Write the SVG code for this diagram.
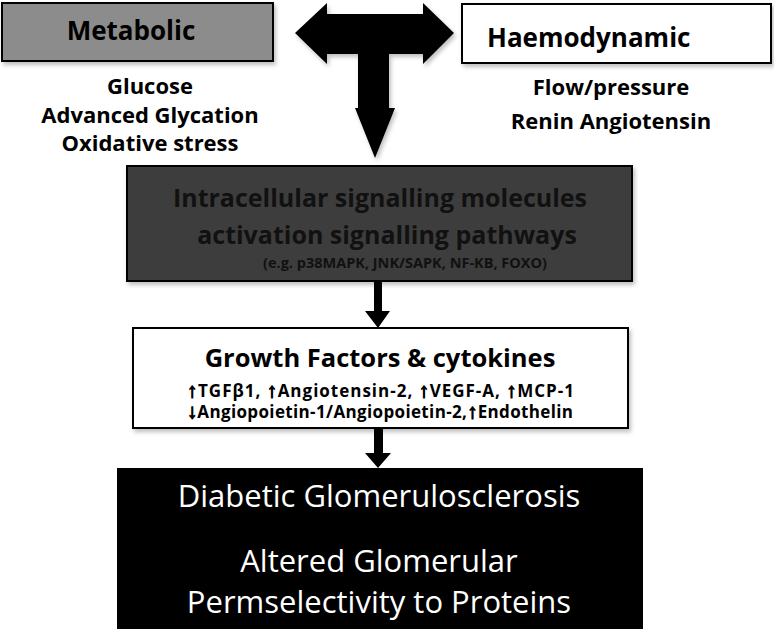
<svg xmlns="http://www.w3.org/2000/svg" width="774" height="631" viewBox="0 0 774 631">
<defs>
<filter id="sh" x="-5%" y="-5%" width="115%" height="125%">
<feDropShadow dx="2" dy="3" stdDeviation="2" flood-color="#000" flood-opacity="0.25"/>
</filter>
</defs>
<style>
.b{font-family:"Open Sans","Liberation Sans",sans-serif;font-weight:bold;fill:#000}
.t26{font-size:26px}
.t22{font-size:22px}
.sm{font-size:17px}
.ar{font-family:"Liberation Sans","DejaVu Sans",sans-serif;font-weight:bold;font-size:20px;fill:#000;stroke:#000;stroke-width:1.2}
.w{font-family:"Open Sans","Liberation Sans",sans-serif;font-size:31px;font-weight:500;fill:#fff}
.box{stroke:#000;stroke-width:2}
</style>
<rect width="774" height="631" fill="#fff"/>
<g id="metabolic">
<rect class="box" x="2" y="3" width="271" height="58" fill="#8c8c8c" filter="url(#sh)"/>
<text class="b t26" x="131" y="40" text-anchor="middle">Metabolic</text>
<text class="b t22" x="150" y="94" text-anchor="middle">Glucose</text>
<text class="b t22" x="150" y="123" text-anchor="middle">Advanced Glycation</text>
<text class="b t22" x="150" y="151" text-anchor="middle">Oxidative stress</text>
</g>
<g id="haemodynamic">
<rect class="box" x="462" y="4" width="309" height="59" fill="#fff" filter="url(#sh)"/>
<text class="b t26" x="487" y="47">Haemodynamic</text>
<text class="b t22" x="611" y="95" text-anchor="middle">Flow/pressure</text>
<text class="b t22" x="611" y="129" text-anchor="middle">Renin Angiotensin</text>
</g>
<g id="intracellular">
<rect class="box" x="127" y="166" width="505" height="115" fill="#3c3c3c" filter="url(#sh)"/>
<text class="b" x="380" y="207" text-anchor="middle" font-size="25" style="fill:#111">Intracellular signalling molecules</text>
<text class="b" x="387" y="244" text-anchor="middle" font-size="25" style="fill:#111">activation signalling pathways</text>
<text class="b" x="405" y="268" text-anchor="middle" font-size="14.5" style="fill:#111">(e.g. p38MAPK, JNK/SAPK, NF-KB, FOXO)</text>
</g>
<g id="growth">
<rect class="box" x="133" y="328" width="495" height="100" fill="#fff" filter="url(#sh)"/>
<text class="b" x="380" y="367" text-anchor="middle" font-size="25.5">Growth Factors &amp; cytokines</text>
<text class="b sm" x="187" y="397" textLength="387" lengthAdjust="spacing"><tspan class="ar">↑</tspan>TGFβ1, <tspan class="ar">↑</tspan>Angiotensin-2,  <tspan class="ar">↑</tspan>VEGF-A, <tspan class="ar">↑</tspan>MCP-1</text>
<text class="b sm" x="187" y="418" textLength="386" lengthAdjust="spacing"><tspan class="ar">↓</tspan>Angiopoietin-1/Angiopoietin-2,<tspan class="ar">↑</tspan>Endothelin</text>
</g>
<g id="outcome">
<rect x="117" y="468" width="526" height="161" fill="#000"/>
<text class="w" x="379" y="507" text-anchor="middle">Diabetic Glomerulosclerosis</text>
<text class="w" x="379" y="572" text-anchor="middle">Altered Glomerular</text>
<text class="w" x="379" y="613" text-anchor="middle">Permselectivity to Proteins</text>
</g>
<g id="connectors">
<path d="M295,33 L327,3 L327,14 L423,14 L423,3 L454,33 L423,64 L423,54 L389,54 L389,108 L395,108 L375,158 L355,108 L358,108 L358,54 L327,54 L327,64 Z" fill="#000" filter="url(#sh)"/>
<path d="M374,281 L382,281 L382,311 L390,311 L378,328 L365,311 L374,311 Z" fill="#000"/>
<path d="M374,428 L383,428 L383,453 L391,453 L378,468 L365,453 L374,453 Z" fill="#000"/>
</g>
</svg>
